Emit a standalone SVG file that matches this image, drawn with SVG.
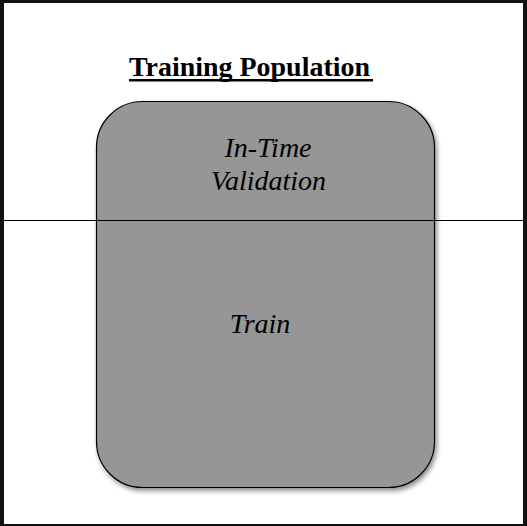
<svg xmlns="http://www.w3.org/2000/svg" width="527" height="526" viewBox="0 0 527 526">
  <defs>
    <filter id="shadow" x="-10%" y="-10%" width="125%" height="125%">
      <feGaussianBlur in="SourceAlpha" stdDeviation="2.5"/>
      <feOffset dx="2" dy="3" result="off"/>
      <feComponentTransfer><feFuncA type="linear" slope="0.45"/></feComponentTransfer>
      <feMerge><feMergeNode/><feMergeNode in="SourceGraphic"/></feMerge>
    </filter>
  </defs>
  <style>
    .title { font-family: "Liberation Serif", "Times New Roman", serif; font-weight: bold; font-size: 28px; fill: #000; }
    .label { font-family: "Liberation Serif", "Times New Roman", serif; font-style: italic; font-size: 28px; fill: #000; text-anchor: middle; }
  </style>
  <!-- page and frame -->
  <rect x="0" y="0" width="527" height="526" fill="#111"/>
  <rect x="4" y="3" width="519" height="521" fill="#fff"/>

  <g id="title">
    <text class="title" x="129" y="76" textLength="241" lengthAdjust="spacingAndGlyphs">Training Population</text>
    <rect x="129" y="79" width="244" height="2.5" fill="#000"/>
  </g>

  <g id="population">
    <rect x="96.5" y="101.5" width="338" height="386" rx="46" ry="46" fill="#969696" stroke="#000" stroke-width="1.2" filter="url(#shadow)"/>
  </g>

  <g id="connectors">
    <line x1="4" y1="220.5" x2="523" y2="220.5" stroke="#000" stroke-width="1.2"/>
  </g>

  <g id="in-time-validation">
    <text class="label" x="268" y="157">In-Time</text>
    <text class="label" x="268.5" y="190">Validation</text>
  </g>

  <g id="train">
    <text class="label" x="260" y="333">Train</text>
  </g>
</svg>
